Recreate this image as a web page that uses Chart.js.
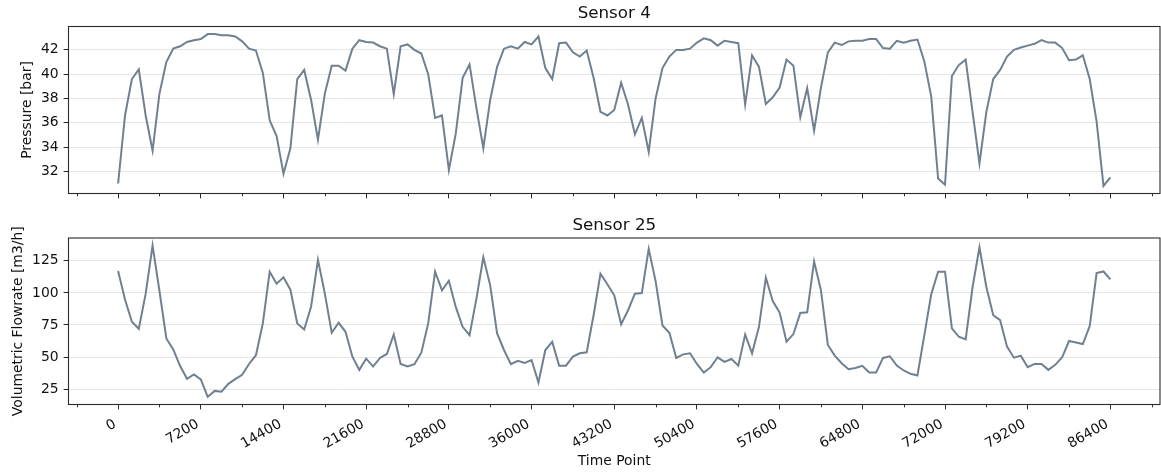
<!DOCTYPE html>
<html>
<head>
<meta charset="utf-8">
<title>Sensor 4 / Sensor 25</title>
<script src="https://cdn.jsdelivr.net/npm/chart.js@4.4.1/dist/chart.umd.min.js"></script>
<style>
  html, body { margin: 0; padding: 0; background: #ffffff; }
  #wrap { position: relative; width: 1161px; height: 475px; overflow: hidden; background: #ffffff; }
  canvas { position: absolute; left: 0; }
  #pressureChart { top: 0; width: 1161px; height: 215px; }
  #flowChart { top: 215px; width: 1161px; height: 260px; }
</style>
</head>
<body>
<div id="wrap">
  <canvas id="pressureChart" width="1161" height="215"></canvas>
  <canvas id="flowChart" width="1161" height="260"></canvas>
</div>
<script>
// Sampling interval of both sensors, in seconds
const TIME_STEP = 600;

// Sensor 4 – pressure [bar], one reading every TIME_STEP seconds
const pressure = [
  31.0, 36.6, 39.6, 40.4, 36.6, 33.7, 38.4, 41.0, 42.1, 42.3, 42.65, 42.8, 42.9, 43.3, 43.3, 43.2, 43.2, 43.1,
  42.7, 42.1, 41.95, 40.1, 36.2, 34.9, 31.8, 33.9, 39.6, 40.35, 37.9, 34.6, 38.4, 40.7, 40.7, 40.3, 42.1, 42.8,
  42.65, 42.6, 42.3, 42.1, 38.35, 42.3, 42.45, 42.0, 41.7, 40.0, 36.4, 36.6, 32.1, 35.1, 39.7, 40.8, 37.2, 33.9,
  37.9, 40.6, 42.1, 42.3, 42.1, 42.65, 42.45, 43.1, 40.5, 39.6, 42.55, 42.6, 41.8, 41.45, 41.95, 39.7, 36.9, 36.6,
  37.05, 39.3, 37.5, 35.05, 36.4, 33.6, 38.0, 40.5, 41.45, 42.0, 42.0, 42.1, 42.6, 42.95, 42.8, 42.35, 42.75, 42.65,
  42.55, 37.5, 41.55, 40.6, 37.55, 38.1, 38.9, 41.2, 40.7, 36.45, 38.85, 35.35, 38.9, 41.8, 42.6, 42.4, 42.7, 42.75,
  42.75, 42.9, 42.9, 42.15, 42.1, 42.75, 42.6, 42.75, 42.85, 41.05, 38.15, 31.4, 30.9, 39.85, 40.75, 41.2, 36.9, 32.65,
  36.9, 39.6, 40.35, 41.45, 42.0, 42.2, 42.35, 42.5, 42.8, 42.6, 42.6, 42.15, 41.15, 41.2, 41.55, 39.6, 36.1, 30.8,
  31.5
];

// Sensor 25 – volumetric flowrate [m3/h]
const flowrate = [
  117.0, 94.8, 77.5, 72.0, 99.4, 136.9, 101.5, 64.5, 56.0, 43.0, 33.0, 36.4, 32.6, 18.9, 23.6, 23.0, 29.1, 32.8,
  36.1, 44.6, 51.4, 76.2, 116.5, 107.2, 112.1, 102.5, 76.2, 71.5, 89.1, 125.8, 99.4, 68.9, 76.7, 69.7, 50.3, 40.0,
  48.8, 42.6, 49.3, 52.4, 67.6, 44.6, 42.6, 44.4, 53.4, 76.2, 116.5, 102.0, 109.5, 89.1, 73.6, 67.1, 95.5, 127.8,
  105.9, 68.4, 55.5, 44.4, 47.0, 45.4, 47.7, 30.2, 55.5, 61.9, 43.3, 43.3, 50.3, 52.9, 53.7, 82.6, 114.9, 106.7,
  98.1, 75.6, 86.5, 99.4, 99.9, 134.3, 109.2, 74.6, 68.9, 49.3, 52.1, 52.9, 44.6, 37.9, 42.1, 49.8, 46.2, 48.5,
  43.3, 67.6, 52.9, 73.6, 111.8, 93.7, 84.7, 61.9, 67.9, 84.4, 84.9, 124.5, 102.0, 59.4, 51.1, 45.2, 40.5, 41.5,
  43.1, 37.9, 37.9, 49.3, 50.6, 43.3, 39.5, 36.9, 35.6, 67.1, 98.9, 116.5, 116.5, 72.3, 65.8, 63.8, 104.6, 135.6,
  104.6, 82.6, 78.7, 58.1, 49.5, 51.1, 42.1, 44.6, 44.6, 40.0, 43.9, 49.8, 62.5, 61.4, 60.1, 74.1, 115.4, 116.7,
  110.5
];

// Tick labels
const timeTicks = [0, 7200, 14400, 21600, 28800, 36000, 43200, 50400, 57600, 64800, 72000, 79200, 86400];
const pressureTicks = [32, 34, 36, 38, 40, 42];
const flowTicks = [25, 50, 75, 100, 125];

const LINE_COLOR = '#708090';
const AXIS_COLOR = '#2b2b2b';
const GRID_COLOR = '#e6e6e6';
const TEXT_COLOR = '#111111';
const FONT = 'DejaVu Sans';
const CANVAS_W = 1161;

Chart.defaults.font.family = FONT;
Chart.defaults.font.size = 13.9;
Chart.defaults.color = TEXT_COLOR;

// time axis with 5 % margins on each side
const timePoints = pressure.map((_, i) => i * TIME_STEP);
const tMin = timePoints[0], tMax = timePoints[timePoints.length - 1];
const tPad = (tMax - tMin) * 0.05;
const tickGap = timeTicks[1] - timeTicks[0];
const minorTicks = [];
for (let v = timeTicks[0] - tickGap / 2; v <= tMax + tPad; v += tickGap) {
  if (v >= tMin - tPad) minorTicks.push(v);
}

function paddedRange(values) {
  const lo = Math.min(...values), hi = Math.max(...values);
  const pad = (hi - lo) * 0.05;
  return [lo - pad, hi + pad];
}

// frame, minor ticks and panel title
const panelDecor = {
  id: 'panelDecor',
  afterDatasetsDraw(chart, args, opts) {
    const { ctx, chartArea: a } = chart;
    const x = chart.scales.x;
    ctx.save();
    ctx.strokeStyle = AXIS_COLOR;
    ctx.lineWidth = 1;
    for (const v of minorTicks) {
      const px = Math.round(x.getPixelForValue(v)) + 0.5;
      ctx.beginPath();
      ctx.moveTo(px, a.bottom);
      ctx.lineTo(px, a.bottom + 2.8);
      ctx.stroke();
    }
    ctx.lineWidth = 1.1;
    ctx.strokeRect(a.left, a.top, a.right - a.left, a.bottom - a.top);
    ctx.fillStyle = TEXT_COLOR;
    ctx.font = '16.7px "' + FONT + '"';
    ctx.textAlign = 'center';
    ctx.textBaseline = 'alphabetic';
    ctx.fillText(opts.text, (a.left + a.right) / 2, a.top - 8.3);
    ctx.restore();
  }
};

function makePanel(canvasId, values, yTicks, yTitle, yTitlePad, box, showTimeLabels) {
  const canvas = document.getElementById(canvasId);
  const H = canvas.height;
  const [yMin, yMax] = paddedRange(values);
  return new Chart(canvas, {
    type: 'line',
    data: {
      datasets: [{
        data: values.map((v, i) => ({ x: timePoints[i], y: v })),
        borderColor: LINE_COLOR,
        borderWidth: 2,
        pointRadius: 0,
        pointHoverRadius: 0,
        tension: 0,
        fill: false
      }]
    },
    options: {
      responsive: false,
      animation: false,
      events: [],
      layout: { padding: { top: box.top, left: 0, right: CANVAS_W - box.right, bottom: 0 } },
      plugins: {
        legend: { display: false },
        tooltip: { enabled: false },
        title: { display: false },
        panelDecor: { text: box.title }
      },
      scales: {
        x: {
          type: 'linear',
          min: tMin - tPad,
          max: tMax + tPad,
          afterBuildTicks: s => { s.ticks = timeTicks.map(v => ({ value: v })); },
          afterFit: s => { s.height = H - box.bottom; },
          border: { display: false },
          grid: { display: true, drawOnChartArea: false, drawTicks: true, tickLength: 4.9, tickColor: AXIS_COLOR, tickWidth: 1 },
          ticks: {
            display: showTimeLabels,
            autoSkip: false,
            minRotation: 30,
            maxRotation: 30,
            padding: 6.5,
            labelOffset: -3,
            color: TEXT_COLOR,
            callback: v => String(v)
          },
          title: {
            display: showTimeLabels,
            text: 'Time Point',
            color: TEXT_COLOR,
            font: { size: 13.9 },
            padding: { top: 0, bottom: 4.8 }
          }
        },
        y: {
          type: 'linear',
          min: yMin,
          max: yMax,
          afterBuildTicks: s => { s.ticks = yTicks.map(v => ({ value: v })); },
          afterFit: s => { s.width = box.left; },
          border: { display: false },
          grid: { display: true, drawOnChartArea: true, color: GRID_COLOR, lineWidth: 1, drawTicks: true, tickLength: 4.9, tickColor: AXIS_COLOR, tickWidth: 1 },
          ticks: { padding: 5, color: TEXT_COLOR, callback: v => String(v) },
          title: {
            display: true,
            text: yTitle,
            color: TEXT_COLOR,
            font: { size: 13.9 },
            padding: { top: yTitlePad, bottom: 0 }
          }
        }
      }
    },
    plugins: [panelDecor]
  });
}

makePanel('pressureChart', pressure, pressureTicks, 'Pressure [bar]', 18.7,
  { left: 68.5, right: 1160, top: 26.5, bottom: 193.5, title: 'Sensor 4' }, false);
makePanel('flowChart', flowrate, flowTicks, 'Volumetric Flowrate [m3/h]', 9.7,
  { left: 68.5, right: 1160, top: 23, bottom: 189.5, title: 'Sensor 25' }, true);
</script>
</body>
</html>
